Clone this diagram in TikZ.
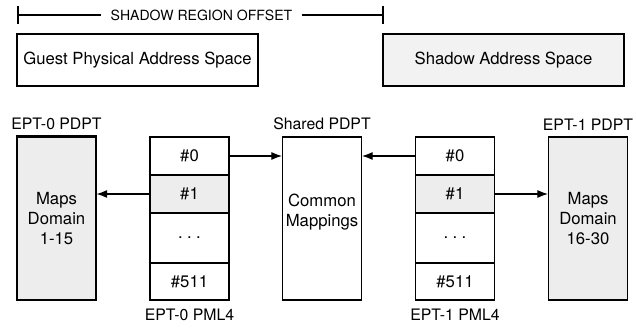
\documentclass[tikz,border=0pt]{standalone}
\usepackage{fontspec}
\setmainfont{TeX Gyre Heros}
\usetikzlibrary{arrows.meta}
\begin{document}
\begin{tikzpicture}[x=0.02cm, y=-0.02cm, line width=0.6pt, font=\fontsize{9.5}{11.5}\selectfont]
				\tikzset{
					box/.style={draw, inner sep=0, align=center},
					cell/.style={box, minimum width=1.58cm, minimum height=0.76cm},
					table/.style={box, minimum width=1.58cm, minimum height=3.26cm},
					space/.style={box, minimum width=4.82cm, minimum height=1.04cm},
					lbl/.style={font=\fontsize{9}{11}\selectfont},
					ptr/.style={-{Latex[length=6pt, width=4.5pt]}}
				}
				\useasboundingbox (0,0) rectangle (636,330);
				% shadow region offset
				\coordinate (offL) at (18,15);
				\coordinate (offR) at (383,15);
				\node[inner sep=5pt, font=\fontsize{8}{10}\selectfont] (offset) at (201.5,15) {SHADOW REGION OFFSET};
				\draw (offL) -- (offset.west);
				\draw (offset.east) -- (offR);
				\draw (18,6) -- (18,24);
				\draw (383,6) -- (383,24);
				% address spaces
				\node[space] (guest) at (137.5,60) {Guest Physical Address Space};
				\node[space, fill=black!5] (shadow) at (503.5,60) {Shadow Address Space};
				% page directory pointer tables
				\node[table, fill=black!7, label={[lbl]above:EPT-0 PDPT}] (pdpt0) at (56.5,218.5) {Maps\\Domain\\1-15};
				\draw[line width=1.6pt] (pdpt0.north west) -- (pdpt0.north east);
				\node[table, label={[lbl]above:Shared PDPT}] (shared) at (322,218.5) {Common\\Mappings\\[-2pt]};
				\node[table, fill=black!7, label={[lbl]above:EPT-1 PDPT}] (pdpt1) at (588,218.5) {Maps\\Domain\\16-30};
				% PML4 tables
				\foreach \tbl/\xc in {0/189.5,1/455}
					{
						\node[cell] (pml\tbl-0) at (\xc,156) {\#0};
						\node[cell, fill=black!7] (pml\tbl-1) at (\xc,194) {\#1};
						\node[cell, minimum height=1cm] (pml\tbl-2) at (\xc,238) {.\hspace{2.5pt}.\hspace{2.5pt}.};
						\node[cell, minimum height=0.74cm, label={[lbl, label distance=1pt]below:EPT-\tbl{} PML4}] (pml\tbl-3) at (\xc,281.5) {\#511};
					}
				\draw[ptr] (pml0-0) -- (pml0-0 -| shared.west);
				\draw[ptr] (pml0-1) -- (pml0-1 -| pdpt0.east);
				\draw[ptr] (pml1-0) -- (pml1-0 -| shared.east);
				\draw[ptr] (pml1-1) -- (pml1-1 -| pdpt1.west);
			\end{tikzpicture}
\end{document}
